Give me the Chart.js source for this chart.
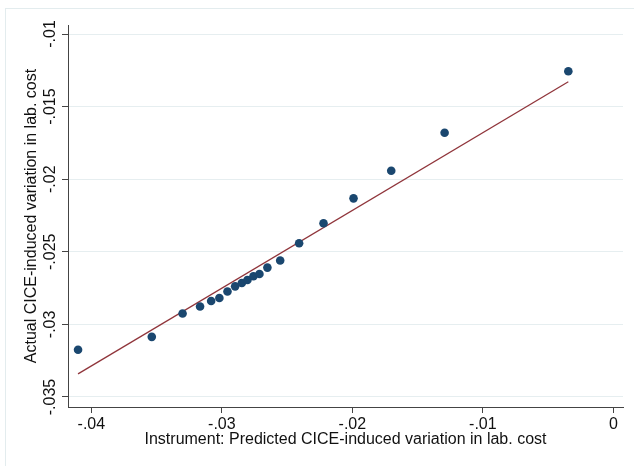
<!DOCTYPE html>
<html>
<head>
<meta charset="utf-8">
<script src="https://cdn.jsdelivr.net/npm/chart.js@4"></script>
<style>
html,body{margin:0;padding:0;background:#fff;}
#wrap{position:relative;width:634px;height:466px;overflow:hidden;}
#frame{position:absolute;left:5px;top:8px;width:700px;height:600px;border-left:1px solid #e3ecee;border-top:1px solid #e3ecee;}
canvas{position:absolute;left:0;top:0;}
</style>
</head>
<body>
<div id="wrap">
<div id="frame"></div>
<canvas id="chart" width="634" height="466"></canvas>
</div>
<script>
// binned scatter, 20 bins
const xVals = [-0.04102,-0.03537,-0.03301,-0.03167,-0.03082,-0.03019,-0.02957,-0.02898,-0.02847,-0.02804,
               -0.02758,-0.02712,-0.02651,-0.02553,-0.02408,-0.02221,-0.01991,-0.01702,-0.01293,-0.00345];
const yVals = [-0.03175,-0.03086,-0.02925,-0.02877,-0.02839,-0.02818,-0.02774,-0.02738,-0.02715,-0.02694,
               -0.02668,-0.02653,-0.02609,-0.02560,-0.02441,-0.02303,-0.02132,-0.01942,-0.01680,-0.01257];

// fitted line end points
const fitX = [-0.04102, -0.00345];
const fitY = [-0.03341, -0.01329];

const xTicks = [-0.04,-0.03,-0.02,-0.01,0];
const xTickLabels = ["-.04","-.03","-.02","-.01","0"];
const yTicks = [-0.035,-0.03,-0.025,-0.02,-0.015,-0.01];
const yTickLabels = ["-.035","-.03","-.025","-.02","-.015","-.01"];

const xTitle = "Instrument: Predicted CICE-induced variation in lab. cost";
const yTitle = "Actual CICE-induced variation in lab. cost";

const font = {family:"'Liberation Sans', Arial, sans-serif", size:16};

function labelFor(ticks, labels){
  return v => {
    const i = ticks.findIndex(t => Math.abs(t - v) < 1e-9);
    return i >= 0 ? labels[i] : "";
  };
}

new Chart(document.getElementById("chart"), {
  type: "scatter",
  data: {
    datasets: [
      {
        data: xVals.map((x,i)=>({x, y:yVals[i]})),
        backgroundColor: "#1a476f",
        borderColor: "#1a476f",
        borderWidth: 0,
        pointRadius: 4.3
      },
      {
        type: "line",
        data: fitX.map((x,i)=>({x, y:fitY[i]})),
        borderColor: "#90353b",
        borderWidth: 1.3,
        pointRadius: 0,
        fill: false
      }
    ]
  },
  options: {
    responsive: false,
    animation: false,
    layout: {padding: {left:0, top:25, right:11, bottom:0}},
    plugins: {legend:{display:false}, tooltip:{enabled:false}},
    scales: {
      x: {
        type: "linear",
        min: -0.04179, max: 0.00074,
        afterBuildTicks: s => { s.ticks = xTicks.map(v=>({value:v})); },
        afterFit: s => { s.height = 59; },
        border: {color:"#444", width:1},
        grid: {drawOnChartArea:false, tickLength:6, tickColor:"#444"},
        ticks: {color:"#111", font, padding:2, maxRotation:0, callback: labelFor(xTicks, xTickLabels)},
        title: {display:true, text:xTitle, color:"#111", font, padding:{top:0,bottom:16.5}}
      },
      y: {
        type: "linear",
        min: -0.03569, max: -0.00938,
        afterBuildTicks: s => { s.ticks = yTicks.map(v=>({value:v})); },
        afterFit: s => { s.width = 68; },
        border: {color:"#444", width:1},
        grid: {color:"#e6eef0", lineWidth:1, tickLength:6, tickColor:"#444"},
        ticks: {color:"#111", font, padding:-7, minRotation:90, maxRotation:90, crossAlign:"center",
                callback: labelFor(yTicks, yTickLabels)},
        title: {display:true, text:yTitle, color:"#111", font, padding:{top:21.5,bottom:0}}
      }
    }
  }
});
</script>
</body>
</html>
